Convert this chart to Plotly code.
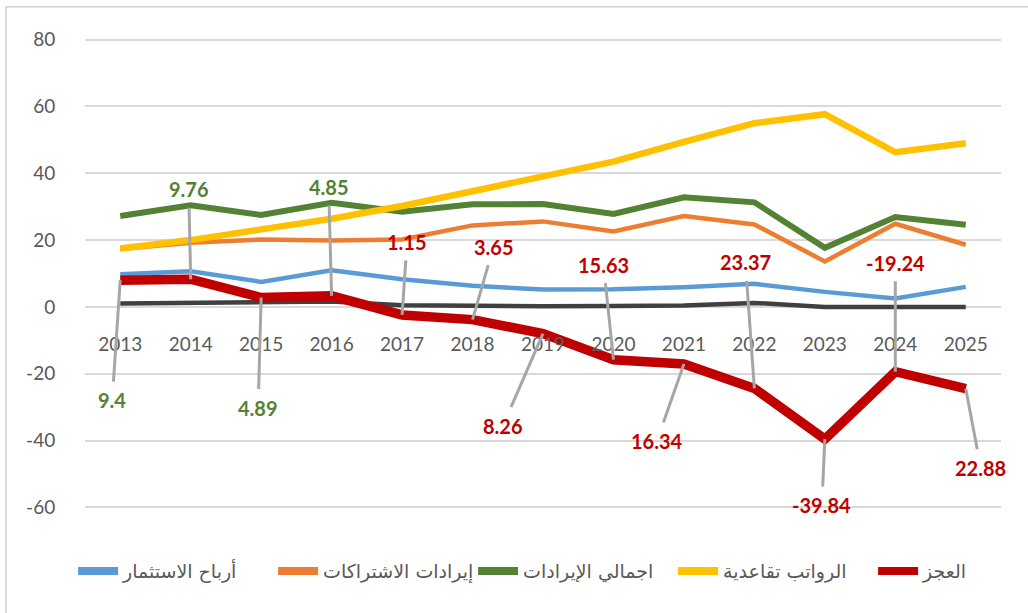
import plotly.graph_objects as go

years = ["2013", "2014", "2015", "2016", "2017", "2018", "2019",
         "2020", "2021", "2022", "2023", "2024", "2025"]

investment = [9.8, 10.7, 7.5, 11.0, 8.3, 6.3, 5.2, 5.3, 5.9, 6.9, 4.5, 2.5, 6.0]
subscriptions = [17.3, 19.2, 20.2, 19.9, 20.2, 24.4, 25.6, 22.6, 27.2, 24.7, 13.6, 24.9, 18.6]
total_revenue = [27.2, 30.4, 27.5, 31.2, 28.5, 30.7, 30.8, 27.8, 32.8, 31.3, 17.7, 26.9, 24.6]
pensions = [17.5, 20.0, 23.2, 26.4, 30.2, 34.6, 39.4, 43.5, 49.4, 55.0, 57.7, 46.3, 49.0]
deficit = [8.0, 8.3, 2.8, 3.3, -2.4, -3.8, -8.0, -15.8, -17.1, -24.4, -39.6, -19.4, -24.5]
other = [1.0, 1.2, 1.5, 1.6, 0.5, 0.3, 0.2, 0.3, 0.4, 1.2, 0.0, 0.0, 0.0]

names = ["أرباح الاستثمار", "إيرادات الاشتراكات", "اجمالي الإيرادات",
         "الرواتب تقاعدية", "العجز"]

y_ticks = [-60, -40, -20, 0, 20, 40, 60, 80]
y_tick_text = ["-60", "-40", "-20", "0", "20", "40", "60", "80"]

label_texts = ["9.4", "9.76", "4.89", "4.85", "1.15", "3.65", "8.26",
               "15.63", "16.34", "23.37", "-39.84", "-19.24", "22.88"]
label_colors = ["#538135", "#538135", "#538135", "#538135"] + ["#C00000"] * 9
label_dx = [-8, -2, -3, -3, 5, 21, -40, -10, -27, -9, -3, 0, 15]
label_dy = [120, -90, 110, -109, -73, -73, 92, -95, 77, -126, 66, -109, 79]

fig = go.Figure()

fig.add_trace(go.Scatter(x=years, y=other, mode="lines", name="أخرى",
                         showlegend=False,
                         line=dict(color="#404040", width=4.5)))
styles = [("#5B9BD5", 4.5), ("#ED7D31", 4.5), ("#548235", 6),
          ("#FFC000", 6.5), ("#C00000", 9.5)]
series_list = [investment, subscriptions, total_revenue, pensions, deficit]
for series, nm, (col, w) in zip(series_list, names, styles):
    fig.add_trace(go.Scatter(x=years, y=series, mode="lines", name=nm,
                             showlegend=False, legendgroup=nm,
                             line=dict(color=col, width=w)))
# legend entries with uniform thick symbols
for nm, (col, w) in zip(names, styles):
    fig.add_trace(go.Scatter(x=[None], y=[None], mode="lines", name=nm,
                             legendgroup=nm, showlegend=True,
                             line=dict(color=col, width=8)))

for i, (txt, col, dx, dy) in enumerate(zip(label_texts, label_colors, label_dx, label_dy)):
    fig.add_annotation(x=i, y=deficit[i], xref="x", yref="y",
                       text="<b>%s</b>" % txt,
                       showarrow=True, arrowhead=0, arrowwidth=3,
                       arrowcolor="#A6A6A6", ax=dx, ay=dy, standoff=0,
                       borderpad=6,
                       font=dict(family="Lato", size=20, color=col))

y_lo, y_hi = -60.5, 80.5
zero_pos = (0 - y_lo) / (y_hi - y_lo)

fig.update_layout(
    width=1028, height=613,
    margin=dict(l=85, r=27, t=38, b=104, autoexpand=False),
    paper_bgcolor="white", plot_bgcolor="white",
    font=dict(family="Lato", size=19, color="#595959"),
    showlegend=True,
    legend=dict(orientation="h", xref="paper", yref="paper",
                x=-0.013, xanchor="left", y=-0.132, yanchor="middle",
                entrywidth=145, entrywidthmode="pixels", itemwidth=40,
                font=dict(family="DejaVu Sans", size=19, color="#595959"),
                tracegroupgap=0),
    xaxis=dict(type="category", range=[-0.5, 12.5], showgrid=False,
               zeroline=False, showline=False, anchor="free",
               position=zero_pos, ticks="outside", ticklen=20,
               tickcolor="rgba(0,0,0,0)", automargin=False,
               tickfont=dict(family="Lato", size=19, color="#595959")),
    yaxis=dict(range=[y_lo, y_hi], tickvals=y_ticks, ticktext=y_tick_text,
               showgrid=True, automargin=False,
               gridcolor="#D9D9D9", gridwidth=1.5, zeroline=False,
               showline=False, ticks="outside", ticklen=25,
               tickcolor="rgba(0,0,0,0)",
               tickfont=dict(family="Lato", size=19, color="#595959")),
    shapes=[dict(type="rect", xref="paper", yref="paper",
                 x0=-0.0862, x1=1.05, y0=-0.24, y1=1.0665,
                 line=dict(color="#D0D0D0", width=1.5), layer="above")],
)

fig.write_html("out.html", config={"displayModeBar": False},
               post_script="document.body.style.margin='0';")
